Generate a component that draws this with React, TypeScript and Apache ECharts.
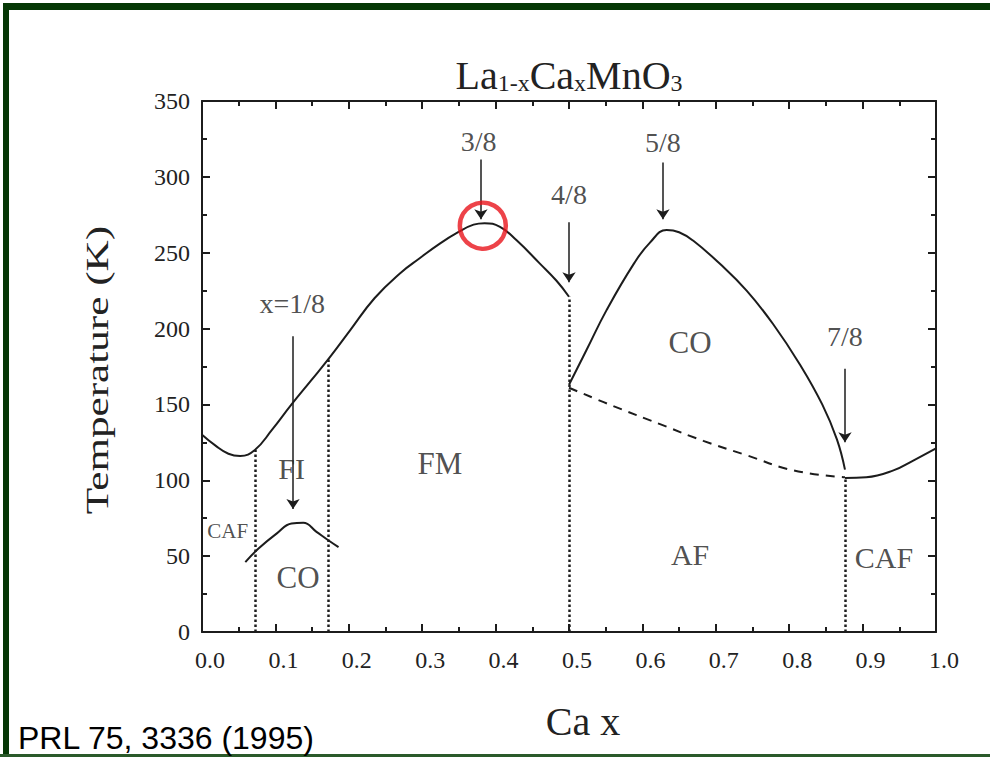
import React, { useEffect, useRef } from "react";
import * as echarts from "echarts";

// ---- data (Ca fraction x, temperature K) ----
const fmTcCurve: [number, number][] = [
  [0, 130], [0.018, 123], [0.036, 117.5], [0.052, 116], [0.072, 120], [0.095, 133],
  [0.122, 150], [0.149, 166], [0.174, 181], [0.202, 199], [0.235, 220], [0.27, 236.5],
  [0.297, 246.5], [0.324, 256], [0.349, 263.5], [0.37, 268.5], [0.385, 269.5], [0.406, 267],
  [0.429, 258], [0.46, 243], [0.483, 231.5], [0.5, 221],
];
const coDomeRight: [number, number][] = [
  [0.5, 163], [0.524, 186], [0.551, 212], [0.588, 242.5], [0.61, 256.5], [0.633, 265],
  [0.65, 263.5], [0.669, 258], [0.706, 242.5], [0.742, 225], [0.778, 203], [0.815, 176],
  [0.845, 150], [0.865, 127], [0.876, 107],
];
const afCoBoundary: [number, number][] = [
  [0.5, 161], [0.56, 149], [0.624, 137], [0.683, 126], [0.742, 116.5], [0.806, 106.5], [0.876, 102],
];
const cafRight: [number, number][] = [
  [0.876, 101.5], [0.905, 102], [0.942, 106.5], [0.969, 113], [1.0, 121],
];
const coDomeLeft: [number, number][] = [
  [0.059, 46], [0.077, 55], [0.102, 65], [0.122, 71.5], [0.138, 72], [0.156, 66],
  [0.172, 60.5], [0.186, 56],
];
const dottedX = [0.073, 0.172, 0.5, 0.876];
const dottedTop = [120, 180, 221, 101.5];
const arrowX = [0.124, 0.38, 0.5, 0.628, 0.876];
const arrowFrom = [195, 311.5, 270, 309.5, 173.5];
const arrowTo = [81, 272, 230.5, 272, 125];
const arrowText = ["x=1/8", "3/8", "4/8", "5/8", "7/8"];
const arrowTextX = [0.123, 0.377, 0.5, 0.628, 0.876];
const arrowTextY = [216.5, 323.5, 288.5, 322.6, 195];
const regionNames = ["FI", "FM", "CAF", "CO", "CO", "AF", "CAF"];
const regionX = [0.122, 0.324, 0.035, 0.131, 0.665, 0.665, 0.929];
const regionY = [108, 111, 66.5, 36, 191, 51, 49];
const regionSize = [30, 31, 21, 31, 31, 30, 30];
const highlightPoint: [number, number] = [0.3826, 267.8];
const xMin = 0, xMax = 1, xStep = 0.1;
const yMin = 0, yMax = 350, yStep = 50;

const SERIF = "'Liberation Serif', 'Times New Roman', serif";
const INK = "#1c1c1c";
const TXT = "#222";

export default function App() {
  const ref = useRef<HTMLDivElement>(null);
  useEffect(() => {
    if (!ref.current) return;
    const chart = echarts.init(ref.current, undefined, { renderer: "svg" });
    const curve = (data: [number, number][], dashed = false) => ({
      type: "line",
      data,
      smooth: 0.45,
      showSymbol: false,
      symbol: "none",
      silent: true,
      lineStyle: { color: INK, width: 2, type: dashed ? [9, 7] : "solid" },
    });
    const axisCommon = {
      type: "value",
      axisLine: { show: true, onZero: false, lineStyle: { color: INK, width: 2 } },
      axisTick: { show: true, inside: true, length: 8, lineStyle: { color: INK, width: 2 } },
      minorTick: { show: true, splitNumber: 2, length: 5, lineStyle: { color: INK, width: 2 } },
      splitLine: { show: false },
    };
    chart.setOption({
      animation: false,
      backgroundColor: "#fff",
      grid: { left: 202, top: 101, width: 734, height: 531 },
      xAxis: [
        {
          ...axisCommon,
          min: xMin, max: xMax, interval: xStep, position: "bottom",
          axisLabel: {
            color: TXT, fontFamily: SERIF, fontSize: 24, margin: 16,
            padding: [0, 0, 0, 16],
            formatter: (v: number) => v.toFixed(1),
          },
          name: "Ca x", nameLocation: "middle", nameGap: 69,
          nameTextStyle: { color: TXT, fontFamily: SERIF, fontSize: 40, padding: [0, 0, 0, 28] },
        },
        {
          ...axisCommon,
          min: xMin, max: xMax, interval: xStep, position: "top",
          axisLabel: { show: false },
        },
      ],
      yAxis: [
        {
          ...axisCommon,
          min: yMin, max: yMax, interval: yStep, position: "left",
          axisLabel: { color: TXT, fontFamily: SERIF, fontSize: 24, margin: 12 },
        },
        {
          ...axisCommon,
          min: yMin, max: yMax, interval: yStep, position: "right",
          axisLabel: { show: false },
        },
      ],
      graphic: [
        { type: "rect", shape: { x: 3, y: 3, width: 987, height: 7 }, style: { fill: "#063806" } },
        { type: "rect", shape: { x: 3, y: 3, width: 6, height: 754 }, style: { fill: "#063806" } },
        { type: "rect", shape: { x: 0, y: 754, width: 990, height: 3 }, style: { fill: "#2a5a2a" } },
        {
          type: "text", x: 569, y: 74,
          style: {
            text: "{m|La}{s|1-x}{m|Ca}{s|x}{m|MnO}{s|3}",
            align: "center", verticalAlign: "middle",
            rich: {
              m: { fontFamily: SERIF, fontSize: 40, fill: TXT, lineHeight: 42, verticalAlign: "bottom" },
              s: { fontFamily: SERIF, fontSize: 24, fill: TXT, lineHeight: 40, verticalAlign: "bottom" },
            },
          },
        },
        {
          type: "text", x: 97, y: 370, rotation: Math.PI / 2, scaleX: 1.35,
          style: {
            text: "Temperature (K)", fill: TXT, fontFamily: SERIF, fontSize: 32,
            align: "center", verticalAlign: "middle",
          },
        },
        {
          type: "text", x: 18, y: 738,
          style: {
            text: "PRL 75, 3336 (1995)", fill: "#000",
            fontFamily: "'Liberation Sans', Arial, sans-serif", fontSize: 32,
            align: "left", verticalAlign: "middle",
          },
        },
      ],
      series: [
        curve(fmTcCurve),
        curve(coDomeRight),
        curve(afCoBoundary, true),
        curve(cafRight),
        curve(coDomeLeft),
        {
          type: "lines", coordinateSystem: "cartesian2d", silent: true,
          lineStyle: { color: INK, width: 2.5, type: [2.5, 2.5], opacity: 1 },
          data: dottedX.map((x, i) => ({ coords: [[x, 0], [x, dottedTop[i]]] })),
        },
        {
          type: "lines", coordinateSystem: "cartesian2d", silent: true,
          symbol: ["none", "arrow"], symbolSize: 10,
          lineStyle: { color: INK, width: 1.5, opacity: 1 },
          data: arrowX.map((x, i) => ({ coords: [[x, arrowFrom[i]], [x, arrowTo[i]]] })),
        },
        {
          type: "scatter", symbolSize: 0, silent: true,
          label: { show: true, position: "inside", formatter: "{b}", color: TXT, fontFamily: SERIF, fontSize: 28 },
          data: arrowText.map((t, i) => ({ name: t, value: [arrowTextX[i], arrowTextY[i]] })),
        },
        {
          type: "scatter", symbolSize: 0, silent: true,
          label: { show: true, position: "inside", formatter: "{b}", color: TXT, fontFamily: SERIF },
          data: regionNames.map((t, i) => ({
            name: t, value: [regionX[i], regionY[i]], label: { fontSize: regionSize[i] },
          })),
        },
        {
          type: "scatter", symbol: "circle", symbolSize: 46, silent: true, z: 10,
          itemStyle: { color: "rgba(0,0,0,0)", borderColor: "#e8141b", borderWidth: 4.5 },
          data: [highlightPoint],
        },
      ],
    });
    return () => chart.dispose();
  }, []);
  return (
    <div
      ref={ref}
      style={{ position: "fixed", left: 0, top: 0, width: 990, height: 757, background: "#fff" }}
    />
  );
}
